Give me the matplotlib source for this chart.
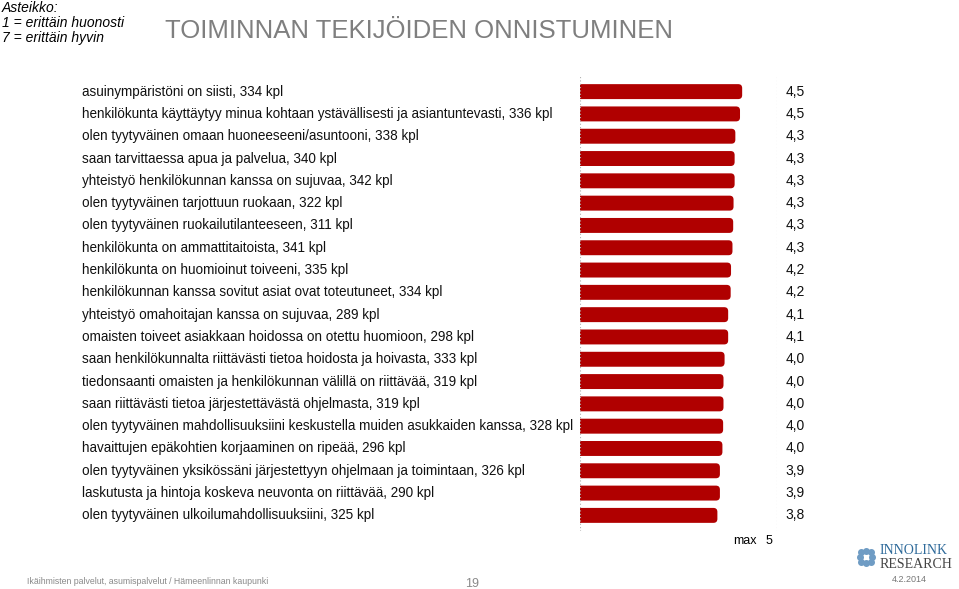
import numpy as np
import matplotlib
matplotlib.use("Agg")
import matplotlib.pyplot as plt
import matplotlib.transforms as mtransforms
from matplotlib.patches import FancyBboxPatch

plt.rcParams['font.family'] = ['Liberation Sans', 'DejaVu Sans']

# data (ordered top to bottom)
questions = [
    "asuinympäristöni on siisti, 334 kpl",
    "henkilökunta käyttäytyy minua kohtaan ystävällisesti ja asiantuntevasti, 336 kpl",
    "olen tyytyväinen omaan huoneeseeni/asuntooni, 338 kpl",
    "saan tarvittaessa apua ja palvelua, 340 kpl",
    "yhteistyö henkilökunnan kanssa on sujuvaa, 342 kpl",
    "olen tyytyväinen tarjottuun ruokaan, 322 kpl",
    "olen tyytyväinen ruokailutilanteeseen, 311 kpl",
    "henkilökunta on ammattitaitoista, 341 kpl",
    "henkilökunta on huomioinut toiveeni, 335 kpl",
    "henkilökunnan kanssa sovitut asiat ovat toteutuneet, 334 kpl",
    "yhteistyö omahoitajan kanssa on sujuvaa, 289 kpl",
    "omaisten toiveet asiakkaan hoidossa on otettu huomioon, 298 kpl",
    "saan henkilökunnalta riittävästi tietoa hoidosta ja hoivasta, 333 kpl",
    "tiedonsaanti omaisten ja henkilökunnan välillä on riittävää, 319 kpl",
    "saan riittävästi tietoa järjestettävästä ohjelmasta, 319 kpl",
    "olen tyytyväinen mahdollisuuksiini keskustella muiden asukkaiden kanssa, 328 kpl",
    "havaittujen epäkohtien korjaaminen on ripeää, 296 kpl",
    "olen tyytyväinen yksikössäni järjestettyyn ohjelmaan ja toimintaan, 326 kpl",
    "laskutusta ja hintoja koskeva neuvonta on riittävää, 290 kpl",
    "olen tyytyväinen ulkoilumahdollisuuksiini, 325 kpl",
]
scores = [4.53, 4.47, 4.34, 4.32, 4.32, 4.29, 4.28, 4.26, 4.22, 4.21,
          4.14, 4.14, 4.04, 4.01, 4.01, 4.00, 3.98, 3.91, 3.91, 3.84]
scale_max = 5

W, H = 959, 589
fig = plt.figure(figsize=(W / 100, H / 100), dpi=100)

ax_w, ax_h = 197.5, 455  # axes size in px
ax = fig.add_axes([579.5 / W, 1 - 531 / H, ax_w / W, ax_h / H])
ypos = np.arange(len(scores))
xmax = 5.5
ax.set_xlim(0, xmax)
ax.set_ylim(len(scores) - 0.3, -0.7)
ax.axis("off")

# bars with rounded right ends (left end is clipped at the axis edge)
bars = ax.barh(ypos, scores, height=0.67, color="#b00000", edgecolor="none")
aspect = (ax_w / xmax) / (ax_h / (len(scores) + 0.4))
for b in bars:
    x0, y0 = b.get_x(), b.get_y()
    w, h = b.get_width(), b.get_height()
    fb = FancyBboxPatch((x0 - 0.3, y0), w + 0.3, h,
                        boxstyle="round,pad=0,rounding_size=0.11",
                        mutation_aspect=aspect, fc="#b00000", ec="none")
    ax.add_patch(fb)
    b.set_visible(False)

for xx in (0, xmax):
    ax.axvline(xx, color="#b0b0b0", lw=0.8, ls=(0, (1, 2)), zorder=3)

trans = mtransforms.blended_transform_factory(fig.transFigure, ax.transData)
for y, q, s in zip(ypos, questions, scores):
    fig.text(82 / W, y, q, transform=trans, ha="left", va="center",
             fontsize=9.75, color="#111111")
    fig.text(805 / W, y, f"{s:.1f}".replace(".", ","), transform=trans,
             ha="right", va="center", fontsize=10, color="#111111")

fig.text(733 / W, 1 - 541 / H, "max", fontsize=9, ha="left", va="center")
fig.text(772 / W, 1 - 541 / H, str(scale_max), fontsize=9, ha="right", va="center")

# header
fig.text(2 / W, 1 - 8 / H, "Asteikko:", fontsize=10, style="italic", va="center")
fig.text(2 / W, 1 - 23 / H, "1 = erittäin huonosti", fontsize=10, style="italic", va="center")
fig.text(2 / W, 1 - 38 / H, "7 = erittäin hyvin", fontsize=10, style="italic", va="center")
fig.text(165 / W, 1 - 31 / H, "TOIMINNAN TEKIJÖIDEN ONNISTUMINEN", fontsize=18.5,
         color="#7f7f7f", va="center")

# footer
fig.text(27 / W, 1 - 582 / H, "Ikäihmisten palvelut, asumispalvelut / Hämeenlinnan kaupunki",
         fontsize=6.3, color="#8a8a8a", va="center")
fig.text(465 / W, 1 - 584 / H, "19", fontsize=9, color="#8a8a8a", va="center")

# logo
lx, ly = 866 / W, 1 - 557 / H
ang = np.linspace(0, 2 * np.pi, 8, endpoint=False)
fig.add_artist(plt.Line2D([lx + 0.011 * np.cos(a) * H / W for a in ang],
                          [ly + 0.011 * np.sin(a) for a in ang],
                          ls="none", marker="o", ms=4, color="#6f9cc4",
                          transform=fig.transFigure))
fig.text(880 / W, 1 - 550 / H, "INNOLINK", family="Liberation Serif", fontsize=10,
         color="#2e6a9a", va="center")
fig.text(880 / W, 1 - 565 / H, "RESEARCH", family="Liberation Serif", fontsize=10,
         color="#444444", va="center")
fig.text(892 / W, 1 - 580 / H, "4.2.2014", fontsize=6.5, color="#777777", va="center")

fig.savefig("out.png", dpi=100)
